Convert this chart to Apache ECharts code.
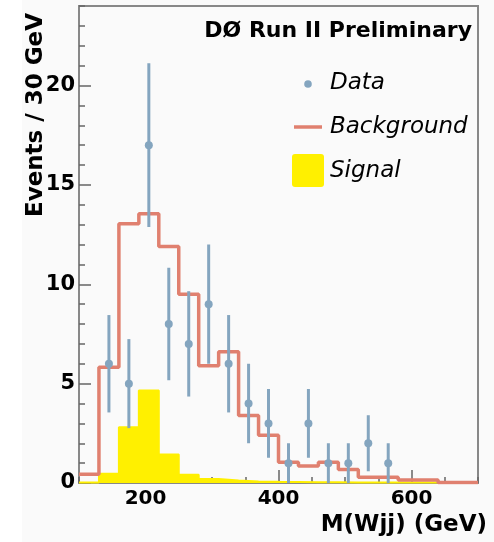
<!DOCTYPE html>
<html>
<head>
<meta charset="utf-8">
<script src="https://cdn.jsdelivr.net/npm/echarts@6/dist/echarts.min.js"></script>
<style>
    html, body { margin: 0; padding: 0; background: #fafafa; }
    #chart { width: 494px; height: 542px; }
</style>
</head>
<body>
<div id="chart"></div>
<script>
(function () {
    'use strict';

    // bin low edges (GeV), 30 GeV bins from 100 to 700
    var binEdges = [100, 130, 160, 190, 220, 250, 280, 310, 340, 370, 400, 430, 460, 490, 520, 550, 580, 610, 640, 670];
    var xEnd = 700;
    var backgroundValues = [0.44, 5.82, 13.05, 13.55, 11.9, 9.5, 5.9, 6.6, 3.4, 2.4, 1.05, 0.85, 1.05, 0.68, 0.29, 0.29, 0.15, 0.15, 0.03, 0.03];
    var signalValues = [0.03, 0.47, 2.8, 4.65, 1.43, 0.42, 0.2, 0.12, 0.08, 0.06, 0.05, 0.04, 0.04, 0.03, 0.03, 0.02, 0.02, 0.02, 0.02, 0.02];

    var dataCenters = [145, 175, 205, 235, 265, 295, 325, 355, 385, 415, 445, 475, 505, 535, 565];
    var dataCounts = [6, 5, 17, 8, 7, 9, 6, 4, 3, 1, 3, 1, 1, 2, 1];
    var dataErrors = [2.45, 2.24, 4.12, 2.83, 2.65, 3, 2.45, 2, 1.73, 1, 1.73, 1, 1, 1.41, 1];

    var xLabelValues = [200, 400, 600];
    var yLabelValues = [0, 5, 10, 15, 20];

    var dataColor = '#84a5bf';
    var bkgColor = '#e0806f';
    var sigColor = '#fff000';
    var frameColor = '#888';
    var font = 'DejaVu Sans';

    function stepData(values) {
        var out = [];
        for (var i = 0; i < binEdges.length; i++) {
            out.push([binEdges[i], values[i]]);
        }
        out.push([xEnd, values[values.length - 1]]);
        return out;
    }

    var points = [];
    for (var i = 0; i < dataCenters.length; i++) {
        points.push([dataCenters[i], dataCounts[i], dataErrors[i]]);
    }

    function renderError(params, api) {
        var x = api.value(0);
        var y = api.value(1);
        var e = api.value(2);
        var lo = api.coord([x, y - e]);
        var hi = api.coord([x, y + e]);
        return {
            type: 'line',
            shape: {x1: lo[0], y1: lo[1], x2: hi[0], y2: hi[1]},
            style: {stroke: dataColor, lineWidth: 3}
        };
    }

    var chart = echarts.init(document.getElementById('chart'));

    var option = {
        backgroundColor: '#fafafa',
        animation: false,
        grid: {
            left: 79, right: 16, top: 6, bottom: 59,
            show: true,
            borderColor: frameColor,
            borderWidth: 2,
            backgroundColor: 'transparent'
        },
        xAxis: [{
            type: 'value',
            min: 100,
            max: 700,
            interval: 50,
            axisLine: {lineStyle: {color: frameColor, width: 2}},
            axisTick: {inside: true, length: 6, lineStyle: {color: '#666', width: 1.5}},
            axisLabel: {
                customValues: xLabelValues,
                margin: 6,
                color: '#000',
                fontFamily: font,
                fontWeight: 'bold',
                fontSize: 20
            },
            splitLine: {show: false}
        }, {
            type: 'value',
            position: 'bottom',
            min: 100,
            max: 700,
            axisLine: {show: false},
            axisTick: {customValues: xLabelValues, inside: true, length: 13, lineStyle: {color: '#666', width: 1.5}},
            axisLabel: {show: false},
            splitLine: {show: false}
        }],
        yAxis: [{
            type: 'value',
            min: 0,
            max: 24,
            interval: 1,
            axisLine: {show: true, lineStyle: {color: frameColor, width: 2}},
            axisTick: {show: true, inside: true, length: 6, lineStyle: {color: '#666', width: 1.5}},
            axisLabel: {
                customValues: yLabelValues,
                margin: 4,
                color: '#000',
                fontFamily: font,
                fontWeight: 'bold',
                fontSize: 21
            },
            splitLine: {show: false}
        }, {
            type: 'value',
            position: 'left',
            offset: 0,
            min: 0,
            max: 24,
            axisLine: {show: false},
            axisTick: {show: true, customValues: yLabelValues, inside: true, length: 12, lineStyle: {color: '#666', width: 1.5}},
            axisLabel: {show: false},
            splitLine: {show: false}
        }],
        series: [{
            name: 'Signal',
            type: 'line',
            step: 'end',
            symbol: 'none',
            data: stepData(signalValues),
            lineStyle: {color: sigColor, width: 2},
            areaStyle: {color: sigColor, opacity: 1},
            z: 2
        }, {
            name: 'Background',
            type: 'line',
            step: 'end',
            symbol: 'none',
            data: stepData(backgroundValues),
            lineStyle: {color: bkgColor, width: 3.5},
            z: 3
        }, {
            name: 'errors',
            type: 'custom',
            renderItem: renderError,
            data: points,
            encode: {x: 0, y: 1},
            z: 4
        }, {
            name: 'Data',
            type: 'scatter',
            symbol: 'circle',
            symbolSize: 8,
            data: points,
            itemStyle: {color: dataColor, opacity: 1},
            z: 5
        }],
        graphic: [
            {type: 'rect', shape: {x: 0, y: 0, width: 22, height: 542}, style: {fill: '#fff'}, z: -1, silent: true},
            {
                type: 'text', x: 472, y: 31,
                style: {text: 'D\u00d8 Run II Preliminary', font: 'bold 22px "DejaVu Sans"', fill: '#000', textAlign: 'right', textVerticalAlign: 'middle'}
            },
            {
                type: 'text', x: 487, y: 525,
                style: {text: 'M(Wjj) (GeV)', font: 'bold 23px "DejaVu Sans"', fill: '#000', textAlign: 'right', textVerticalAlign: 'middle'}
            },
            {
                type: 'text', x: 36, y: 13, rotation: Math.PI / 2,
                style: {text: 'Events / 30 GeV', font: 'bold 23px "DejaVu Sans"', fill: '#000', textAlign: 'right', textVerticalAlign: 'middle'}
            },
            // legend
            {type: 'circle', shape: {cx: 308, cy: 84, r: 3.8}, style: {fill: dataColor}},
            {
                type: 'text', x: 330, y: 83,
                style: {text: 'Data', font: 'italic 23px "DejaVu Sans"', fill: '#000', textVerticalAlign: 'middle'}
            },
            {type: 'line', shape: {x1: 294, y1: 127, x2: 322, y2: 127}, style: {stroke: bkgColor, lineWidth: 3.5}},
            {
                type: 'text', x: 330, y: 127,
                style: {text: 'Background', font: 'italic 23px "DejaVu Sans"', fill: '#000', textVerticalAlign: 'middle'}
            },
            {type: 'rect', shape: {x: 292, y: 154, width: 32, height: 33, r: 3}, style: {fill: sigColor}},
            {
                type: 'text', x: 330, y: 171,
                style: {text: 'Signal', font: 'italic 23px "DejaVu Sans"', fill: '#000', textVerticalAlign: 'middle'}
            }
        ]
    };

    chart.setOption(option);
})();
</script>
</body>
</html>
